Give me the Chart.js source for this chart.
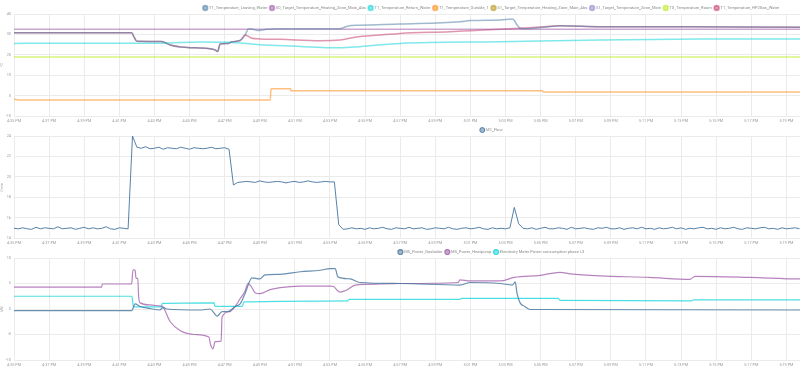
<!DOCTYPE html>
<html>
<head>
<meta charset="utf-8">
<script src="https://cdn.jsdelivr.net/npm/chart.js@4.4.1/dist/chart.umd.min.js"></script>
<style>
  body { margin: 0; width: 800px; height: 371px; overflow: hidden; background: #fff; position: relative; }
  .block { position: absolute; left: 0; width: 988px; height: 125px; }
</style>
</head>
<body>
<div class="block" style="top:0px"><canvas id="tempChart" width="988" height="125"></canvas></div>
<div class="block" style="top:122px"><canvas id="flowChart" width="988" height="125"></canvas></div>
<div class="block" style="top:244px"><canvas id="powerChart" width="988" height="125"></canvas></div>
<script>
// time axis in minutes after 4:35 PM
const xMax = 55.2;
const xTickLabels = ["4:35 PM", "4:37 PM", "4:39 PM", "4:41 PM", "4:43 PM", "4:45 PM", "4:47 PM", "4:49 PM",
  "4:51 PM", "4:53 PM", "4:55 PM", "4:57 PM", "4:59 PM", "5:01 PM", "5:03 PM", "5:05 PM", "5:07 PM",
  "5:09 PM", "5:11 PM", "5:13 PM", "5:15 PM", "5:17 PM", "5:19 PM", "5:21 PM", "5:23 PM", "5:25 PM",
  "5:27 PM", "5:29 PM"];

const palette = ["#44739e", "#984ea3", "#00d2d5", "#ff7f00", "#af8d00", "#7f80cd", "#b3e900", "#c42e60"];

// --- temperatures (°C) ---
const tempSeriesNames = ["T1_Temperature_Leaving_Water", "S0_Target_Temperature_Heating_Zone_Main_Abs",
  "T1_Temperature_Return_Water", "T1_Temperature_Outside_1", "S1_Target_Temperature_Heating_Zone_Main_Abs",
  "S1_Target_Temperature_Zone_Main", "T0_Temperature_Room", "T1_Temperature_HP2Gas_Water"];

const leavingTimes = [0, 6.7, 6.85, 7.0, 8.4, 8.9, 9.5, 10.3, 11.17, 11.45, 11.6, 11.74, 12.19, 12.42, 12.88,
  13.16, 13.33, 13.45, 13.9, 14.3, 14.87, 16.3, 18.57, 19.03, 19.7, 22.0, 25.4, 26.0, 27.7, 28.4, 28.66,
  28.83, 29.1, 30.26, 31.1, 33.4, 38.5, 44.8, 56];
const leavingValues = [30.8, 30.8, 28.5, 26.6, 26.5, 24.8, 23.8, 23.4, 23.0, 22.4, 21.6, 25.3, 25.6, 26.4, 27.0,
  29.5, 32.5, 32.8, 31.9, 32.4, 32.8, 32.8, 32.8, 34.1, 34.5, 35.1, 36.2, 36.8, 37.1, 37.5, 34.6,
  33.0, 32.8, 33.6, 34.3, 33.8, 33.7, 33.5, 33.5];

const hp2gasTimes = [0, 6.7, 6.85, 7.0, 8.4, 8.9, 9.5, 10.3, 11.17, 11.45, 11.6, 11.74, 12.19, 12.42, 12.88,
  13.16, 13.56, 14.0, 15.16, 17.44, 18.57, 19.43, 20.85, 22.0, 24.84, 26.0, 27.7, 28.83, 30.26, 31.1, 33.4,
  38.5, 44.8, 56];
const hp2gasValues = [30.8, 30.8, 28.5, 26.6, 26.5, 24.8, 23.8, 23.4, 23.0, 22.4, 21.6, 25.3, 25.6, 26.4, 27.0,
  29.7, 28.1, 27.8, 27.6, 26.9, 27.2, 28.6, 29.7, 30.5, 31.3, 31.8, 32.5, 33.0, 33.8, 34.3, 33.8,
  33.7, 33.5, 33.5];

const targetS0Times = [0, 56];
const targetS0Values = [32.5, 32.5];

const returnTimes = [0, 8.4, 10.6, 12.2, 14.0, 16.3, 18.0, 19.7, 22.0, 27.7, 33.4, 39.1, 44.8, 56];
const returnValues = [25.6, 25.7, 26.3, 26.2, 24.9, 24.1, 23.4, 24.0, 25.6, 26.4, 27.2, 27.7, 27.8, 27.8];

const outsideTimes = [0, 0.3, 14.6, 14.64, 15.75, 15.78, 30.1, 30.15, 44.8, 56];
const outsideValues = [-1.7, -2.2, -2.2, 3.3, 3.3, 2.4, 2.4, 1.8, 1.8, 1.8];

const roomTimes = [0, 56];
const roomValues = [18.9, 18.9];

// --- flow (l/min), one reading every 15 s from 4:35 PM ---
const flowStep = 0.25;
const flowValues = [
  14.95, 14.9, 15.0, 14.9, 14.85, 15.05, 14.9, 15.0, 14.95, 14.9, 15.1, 14.9, 14.95, 15.0, 14.85, 14.95,
  15.05, 14.9, 15.0, 14.9, 14.95, 15.1, 14.9, 14.85, 15.0, 14.95, 14.9,
  24.0,
  22.9, 22.8, 22.95, 22.75, 22.8, 22.9, 22.7, 22.85, 22.8, 22.75, 22.9, 22.8, 22.7, 22.85, 22.8, 22.75,
  22.8, 22.9, 22.75, 22.8, 22.85, 22.7,
  19.2,
  19.45, 19.5, 19.55, 19.5, 19.45, 19.6, 19.5, 19.45, 19.5, 19.55, 19.5, 19.4, 19.5, 19.55, 19.45, 19.5,
  19.6, 19.5, 19.45, 19.5, 19.55, 19.5, 19.5,
  15.3,
  14.85, 14.9, 15.0, 14.9, 14.95, 14.85, 15.0, 14.9, 14.95, 15.05, 14.9, 14.85, 15.0, 14.95, 14.9, 15.05,
  14.9, 14.95, 15.0, 14.85, 14.9, 15.0, 14.95, 14.9, 15.05, 14.9, 14.85, 14.95, 15.0, 14.9, 14.95, 15.05,
  14.9, 14.85, 15.0, 14.9, 14.95, 14.9, 15.0,
  17.0, 15.4,
  14.95, 14.9, 15.0, 14.85, 14.95, 15.05, 14.9, 14.9, 15.0, 14.95, 14.85, 15.05, 14.9, 14.95, 15.0, 14.9,
  14.85, 15.0, 14.95, 15.05, 14.9, 14.9, 15.0, 14.85, 14.95, 15.0, 14.9, 15.05, 14.9, 14.95, 14.85, 15.0,
  14.9, 14.95, 15.05, 14.9, 15.0, 14.85, 14.95, 14.9, 15.0, 15.05, 14.9, 14.95, 14.85, 15.0, 14.9, 14.95,
  15.05, 14.9, 14.85, 15.0, 14.95, 14.9, 15.0, 15.05, 14.9, 14.95, 14.85, 15.0, 14.9, 14.95, 15.0, 14.9
];

// --- power (kW) ---
const gasTimes = [0, 6.7, 6.9, 7.18, 7.75, 8.3, 8.5, 8.7, 10.6, 11.17, 11.4, 11.57, 11.85, 12.19, 12.6, 12.88,
  13.16, 13.56, 14.0, 14.3, 15.16, 16.3, 17.44, 18.0, 18.3, 18.45, 19.15, 19.7, 22.0, 25.4, 26.0, 27.7,
  28.4, 28.55, 28.66, 28.83, 29.1, 29.4, 44.8, 56];
const gasValues = [-0.3, -0.3, 1.0, 0.5, 0.1, -0.2, 0.3, 0.0, -0.2, 0.0, -0.8, -1.4, -0.5, -0.5, 0.5, 1.0,
  3.0, 6.1, 5.9, 6.7, 6.8, 7.3, 7.6, 7.9, 7.9, 6.3, 5.9, 5.2, 5.0, 4.7, 5.2, 5.0,
  4.7, 5.3, 3.0, 1.2, 0.5, -0.1, -0.2, -0.2];

const heatpumpTimes = [0, 5.0, 5.02, 6.7, 6.78, 6.9, 6.95, 7.05, 7.1, 7.18, 7.75, 8.3, 8.45, 8.9, 9.46, 10.3,
  11.1, 11.2, 11.34, 11.45, 11.8, 11.85, 12.3, 12.6, 12.88, 13.16, 13.33, 13.5, 13.73, 14.0, 14.59, 15.16,
  16.3, 18.0, 18.2, 18.57, 19.0, 19.43, 20.85, 22.0, 25.3, 25.4, 26.0, 27.7, 28.5, 29.97, 31.1, 31.7,
  33.4, 36.2, 38.5, 38.8, 41.9, 44.8, 56];
const heatpumpValues = [4.3, 4.3, 4.9, 4.9, 7.7, 7.6, 6.0, 6.0, 2.5, 1.2, 0.8, 0.6, 0.5, -2.5, -4.2, -5.0,
  -5.5, -7.0, -7.8, -6.4, -6.3, -1.6, -0.5, 0.5, 2.0, 3.5, 5.0, 4.5, 3.2, 3.0, 3.8, 4.2,
  4.5, 4.5, 4.4, 3.3, 3.8, 4.7, 4.9, 5.0, 5.2, 5.7, 5.5, 5.5, 6.2, 6.6, 7.2, 6.9,
  6.5, 6.2, 5.8, 6.4, 6.2, 5.9, 5.9];

const l3Times = [0, 6.72, 6.8, 8.4, 8.45, 11.4, 11.45, 13.0, 13.1, 19.0, 19.1, 25.4, 25.5, 31.0, 31.1, 38.6,
  38.7, 44.8, 56];
const l3Values = [2.5, 2.5, 0.4, 0.4, 1.1, 1.2, 0.5, 0.5, 1.4, 1.6, 1.9, 1.9, 2.1, 2.1, 1.7, 1.6,
  1.8, 1.8, 1.8];

const gridColor = "#ebebeb";
const tickColor = "#9a9a9a";
const fontFamily = "Roboto, 'Noto Sans', sans-serif";

function rgba(hex, a) {
    const n = parseInt(hex.slice(1), 16);
    return `rgba(${(n >> 16) & 255}, ${(n >> 8) & 255}, ${n & 255}, ${a})`;
}

function toPoints(times, values) {
    return times.map((t, i) => ({ x: t, y: values[i] }));
}

function makeDataset(label, color, points, width, alpha) {
    return {
        label: label,
        data: points,
        borderColor: rgba(color, alpha),
        backgroundColor: rgba(color, 0.5),
        borderWidth: width,
        pointRadius: 0,
        cubicInterpolationMode: "monotone",
        fill: false
    };
}

function makeOptions(yMin, yMax, yStep, yTitle) {
    return {
        responsive: false,
        animation: false,
        devicePixelRatio: 1,
        layout: { padding: { left: 0, right: 5, top: 3, bottom: 0 } },
        plugins: {
            tooltip: { enabled: false },
            legend: {
                position: "top",
                align: "center",
                maxHeight: 11,
                labels: {
                    usePointStyle: true,
                    pointStyle: "circle",
                    boxWidth: 3.5,
                    boxHeight: 3.5,
                    padding: 3,
                    color: "#8a8a8a",
                    font: { family: fontFamily, size: 4.1 }
                }
            }
        },
        scales: {
            x: {
                type: "linear",
                min: 0,
                max: xMax,
                grid: { color: gridColor, drawTicks: false },
                border: { color: gridColor },
                ticks: {
                    stepSize: 2,
                    autoSkip: false,
                    maxRotation: 0,
                    includeBounds: false,
                    padding: 3,
                    color: tickColor,
                    font: { family: fontFamily, size: 3.8 },
                    callback: v => xTickLabels[Math.round(v / 2)] || ""
                },
                afterFit: scale => { scale.height = 9; }
            },
            y: {
                min: yMin,
                max: yMax,
                grid: { color: gridColor, drawTicks: false },
                border: { color: gridColor },
                ticks: {
                    stepSize: yStep,
                    padding: 3,
                    color: tickColor,
                    font: { family: fontFamily, size: 3.8 }
                },
                title: {
                    display: true,
                    text: yTitle,
                    color: tickColor,
                    padding: 0,
                    font: { family: fontFamily, size: 3.8 }
                },
                afterFit: scale => { scale.width = 14; }
            }
        }
    };
}

const tempPoints = [
    toPoints(leavingTimes, leavingValues),
    toPoints(targetS0Times, targetS0Values),
    toPoints(returnTimes, returnValues),
    toPoints(outsideTimes, outsideValues),
    [],
    [],
    toPoints(roomTimes, roomValues),
    toPoints(hp2gasTimes, hp2gasValues)
];

new Chart(document.getElementById("tempChart"), {
    type: "line",
    data: {
        datasets: tempSeriesNames.map((name, i) => makeDataset(name, palette[i], tempPoints[i], 1.5, 0.5))
    },
    options: makeOptions(-10, 40, 10, "°C")
});

new Chart(document.getElementById("flowChart"), {
    type: "line",
    data: {
        datasets: [
            Object.assign(makeDataset("M1_Flow", palette[0], flowValues.map((v, i) => ({ x: i * flowStep, y: v })), 1, 0.9),
                { cubicInterpolationMode: "default", tension: 0 })
        ]
    },
    options: makeOptions(14, 24, 2, "l/min")
});

new Chart(document.getElementById("powerChart"), {
    type: "line",
    data: {
        datasets: [
            makeDataset("M5_Power_Gasboiler", palette[0], toPoints(gasTimes, gasValues), 1.2, 0.8),
            makeDataset("M5_Power_Heatpump", palette[1], toPoints(heatpumpTimes, heatpumpValues), 1.2, 0.7),
            makeDataset("Electricity Meter Power consumption phase L3", palette[2], toPoints(l3Times, l3Values), 1.2, 0.7)
        ]
    },
    options: makeOptions(-10, 10, 5, "kW")
});
</script>
</body>
</html>
